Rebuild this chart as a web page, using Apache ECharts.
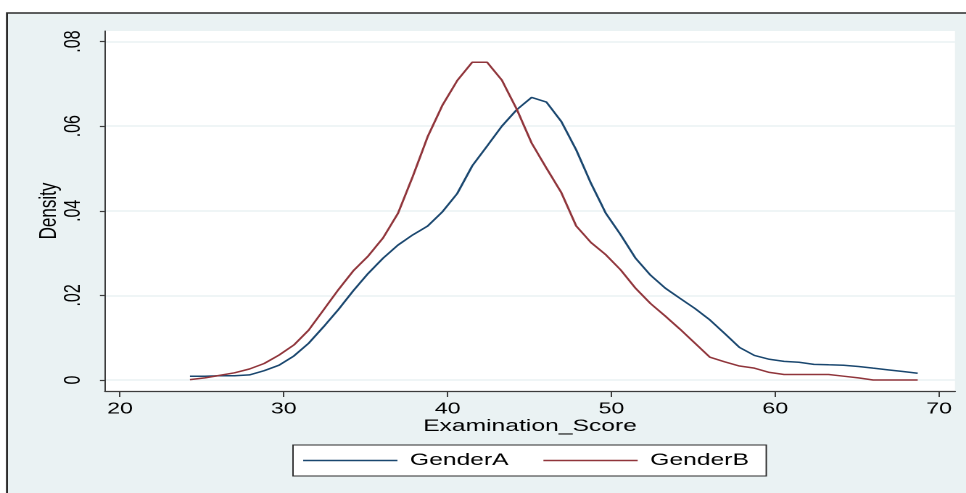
<!DOCTYPE html>
<html>
<head>
<meta charset="utf-8">
<title>Examination score density</title>
<script src="https://cdn.jsdelivr.net/npm/echarts@6.0.0/dist/echarts.min.js"></script>
<style>
  html, body { margin: 0; padding: 0; background: #fff; overflow: hidden; }
  /* the original graph is stretched sideways, so the chart is drawn narrow and widened */
  #chart { width: 666px; height: 493px; transform: scaleX(1.4505); transform-origin: 0 0; }
</style>
</head>
<body>
<div id="chart"></div>
<script>
// kdensity evaluation points (Examination_Score)
const scorePoints = [
  24.27, 25.18, 26.08, 26.99, 27.90, 28.80, 29.71, 30.62, 31.52, 32.43,
  33.34, 34.24, 35.15, 36.06, 36.97, 37.87, 38.78, 39.69, 40.59, 41.50,
  42.41, 43.31, 44.22, 45.13, 46.03, 46.94, 47.85, 48.75, 49.66, 50.57,
  51.47, 52.38, 53.29, 54.19, 55.10, 56.01, 56.91, 57.82, 58.73, 59.64,
  60.54, 61.45, 62.36, 63.26, 64.17, 65.08, 65.98, 66.89, 67.80, 68.70
];
// density, GenderA
const genderA = [
  0.0009, 0.0009, 0.0010, 0.0010, 0.0012, 0.0022, 0.0035, 0.0057, 0.0087, 0.0126,
  0.0167, 0.0211, 0.0252, 0.0288, 0.0319, 0.0343, 0.0364, 0.0398, 0.0441, 0.0506,
  0.0553, 0.0600, 0.0639, 0.0668, 0.0657, 0.0611, 0.0544, 0.0465, 0.0394, 0.0343,
  0.0288, 0.0248, 0.0217, 0.0193, 0.0169, 0.0142, 0.0110, 0.0077, 0.0058, 0.0049,
  0.0044, 0.0042, 0.0037, 0.0036, 0.0035, 0.0032, 0.0028, 0.0024, 0.0020, 0.0016
];
// density, GenderB
const genderB = [
  0.0001, 0.0005, 0.0011, 0.0017, 0.0026, 0.0039, 0.0059, 0.0083, 0.0118, 0.0166,
  0.0214, 0.0258, 0.0293, 0.0336, 0.0394, 0.0481, 0.0575, 0.0650, 0.0708, 0.0751,
  0.0751, 0.0709, 0.0640, 0.0560, 0.0501, 0.0443, 0.0364, 0.0325, 0.0296, 0.0260,
  0.0217, 0.0181, 0.0151, 0.0120, 0.0087, 0.0054, 0.0043, 0.0033, 0.0028, 0.0018,
  0.0013, 0.0013, 0.0013, 0.0013, 0.0009, 0.0005, 0.0000, 0.0000, 0.0000, 0.0000
];
const xTicks = [20, 30, 40, 50, 60, 70];
const yTicks = [0, 0.02, 0.04, 0.06, 0.08];

const FONT = 'Liberation Sans, Arial, Helvetica, sans-serif';
const NAVY = '#1a476f';
const MAROON = '#90353b';
const BLUISH = '#eaf2f3';
const AXIS = '#3c3c3c';

const chart = echarts.init(document.getElementById('chart'), null, { renderer: 'canvas', devicePixelRatio: 2 });

// Stata style labels: .02 instead of 0.02
function stataNum(v) {
    if (v === 0) return '0';
    return String(Math.round(v * 100) / 100).replace(/^0\./, '.');
}

const option = {
    animation: false,
    graphic: [{
        type: 'rect',
        z: -10,
        silent: true,
        shape: { x: 4.8, y: 13, width: 700, height: 520 },
        style: { fill: BLUISH, stroke: '#2b2b2b', lineWidth: 1.4 }
    }],
    grid: {
        left: 72.4,
        right: 7.6,
        top: 31,
        bottom: 102,
        show: true,
        backgroundColor: '#fff',
        borderWidth: 0
    },
    legend: {
        data: ['GenderA', 'GenderB'],
        left: 202,
        top: 445,
        orient: 'horizontal',
        icon: 'rect',
        itemWidth: 65,
        itemHeight: 1.4,
        itemGap: 24,
        padding: [7, 12, 7, 7],
        backgroundColor: '#fff',
        borderColor: '#2b2b2b',
        borderWidth: 1,
        borderRadius: 0,
        textStyle: { fontFamily: FONT, fontSize: 17, color: '#000', padding: [0, 0, 0, 3.6] }
    },
    xAxis: {
        type: 'value',
        min: 19.084,
        max: 70.977,
        name: 'Examination_Score',
        nameLocation: 'middle',
        nameGap: 27,
        nameMoveOverlap: false,
        nameTextStyle: { fontFamily: FONT, fontSize: 17, color: '#000' },
        axisLine: { show: true, onZero: false, lineStyle: { color: AXIS, width: 1.3 } },
        axisTick: { show: true, length: 6, customValues: xTicks, lineStyle: { color: AXIS, width: 1 } },
        axisLabel: { customValues: xTicks, margin: 10, fontFamily: FONT, fontSize: 16, color: '#000' },
        splitLine: { show: false }
    },
    yAxis: {
        type: 'value',
        min: -0.0026,
        max: 0.0825,
        name: 'Density',
        nameLocation: 'middle',
        nameGap: 30,
        nameMoveOverlap: false,
        nameTextStyle: { fontFamily: FONT, fontSize: 17, color: '#000' },
        axisLine: { show: true, onZero: false, lineStyle: { color: AXIS, width: 1 } },
        axisTick: { show: true, length: 3.5, customValues: yTicks, lineStyle: { color: AXIS, width: 1.2 } },
        axisLabel: {
            customValues: yTicks,
            rotate: 90,
            margin: 14,
            fontFamily: FONT,
            fontSize: 16,
            color: '#000',
            formatter: stataNum
        },
        splitLine: { show: true, lineStyle: { color: BLUISH, width: 1.6 } }
    },
    series: [
        {
            name: 'GenderA',
            type: 'line',
            data: scorePoints.map((x, i) => [x, genderA[i]]),
            showSymbol: false,
            symbol: 'none',
            smooth: false,
            color: NAVY,
            lineStyle: { color: NAVY, width: 1.5 }
        },
        {
            name: 'GenderB',
            type: 'line',
            data: scorePoints.map((x, i) => [x, genderB[i]]),
            showSymbol: false,
            symbol: 'none',
            smooth: false,
            color: MAROON,
            lineStyle: { color: MAROON, width: 1.5 }
        }
    ]
};

chart.setOption(option);
</script>
</body>
</html>
